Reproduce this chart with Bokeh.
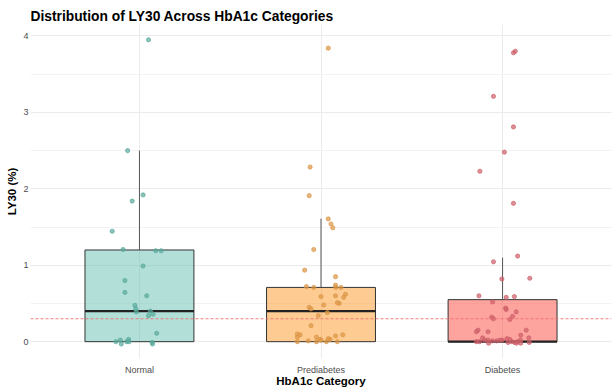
from bokeh.plotting import figure
from bokeh.models import FactorRange, Range1d, Span, SingleIntervalTicker, ColumnDataSource
from bokeh.embed import file_html
from bokeh.resources import INLINE

# HbA1c groups and their colours
categories = ["Normal", "Prediabetes", "Diabetes"]
box_fill = ["#65BFB1", "#FD9A26", "#FB4A3E"]
point_color = ["#58AA9B", "#DC9646", "#CD5F69"]

# Box-plot summary statistics of LY30 (%) per group
q1 = [0.0, 0.0, 0.0]
median = [0.40, 0.40, 0.0]
q3 = [1.20, 0.71, 0.55]
upper_whisker = [2.50, 1.61, 1.10]

# Reference threshold for LY30 (%)
ly30_threshold = 0.3

# Individual observations (LY30 %) with their horizontal jitter offsets
normal_ly30 = [3.95, 2.50, 1.92, 1.84, 1.445, 1.206, 1.19, 1.19, 0.99, 0.80, 0.645, 0.60,
               0.475, 0.43, 0.39, 0.40, 0.34, 0.36, 0.11, 0.0, 0.02, -0.03, 0.0, 0.03,
               0.0, -0.01, -0.03]
normal_jitter = [0.05, -0.065, 0.02, -0.04, -0.15, -0.09, 0.09, 0.12, 0.02, -0.08, -0.08, 0.04,
                 -0.025, -0.02, -0.017, 0.06, 0.05, 0.075, 0.095, -0.13, -0.105, -0.10, -0.07, -0.06,
                 -0.057, 0.07, 0.072]

prediabetes_ly30 = [3.84, 2.285, 1.91, 1.606, 1.54, 1.49, 1.206, 0.936, 0.85, 0.72, 0.71, 0.74,
                    0.71, 0.71, 0.59, 0.60, 0.62, 0.58, 0.51, 0.50, 0.48, 0.45, 0.43, 0.38,
                    0.34, 0.21, 0.10, 0.09, 0.06, 0.0, 0.01, 0.06, 0.0, 0.03, 0.02, 0.0,
                    0.04, 0.03, 0.075, 0.0, 0.09]
prediabetes_jitter = [0.04, -0.06, -0.065, 0.04, 0.055, 0.065, -0.04, -0.09, 0.08, -0.08, -0.04, 0.08,
                      0.082, 0.11, 0.0, 0.08, 0.135, 0.125, 0.09, 0.10, 0.015, -0.065, -0.055, 0.035,
                      -0.015, -0.055, -0.13, -0.115, -0.13, -0.13, -0.07, -0.025, -0.025, -0.005, 0.0, 0.03,
                      0.04, 0.05, 0.08, 0.09, 0.12]

diabetes_ly30 = [3.78, 3.80, 3.21, 2.81, 2.48, 2.23, 1.81, 1.12, 1.045, 0.82, 0.83, 0.60,
                 0.58, 0.59, 0.52, 0.44, 0.42, 0.39, 0.32, 0.30, 0.29, 0.33, 0.15, 0.13,
                 0.13, 0.15, 0.085, 0.05, 0.05, 0.0, 0.0, 0.02, -0.02, 0.01, 0.01, 0.02,
                 0.02, 0.04, -0.01, 0.03, 0.0, -0.01, -0.02, 0.0, 0.02, -0.02, -0.01, 0.02]
diabetes_jitter = [0.06, 0.07, -0.05, 0.06, 0.01, -0.125, 0.06, 0.083, -0.05, -0.004, 0.15, -0.13,
                   0.02, 0.065, -0.055, 0.017, 0.02, 0.075, -0.06, -0.05, 0.04, 0.055, -0.135, -0.144,
                   -0.08, 0.13, 0.10, 0.145, -0.11, -0.144, -0.127, -0.081, -0.077, -0.057, -0.033, -0.015,
                   -0.002, 0.024, 0.03, 0.04, 0.05, 0.066, 0.077, 0.083, 0.099, 0.10, 0.147, -0.099]

group_values = [normal_ly30, prediabetes_ly30, diabetes_ly30]
group_jitter = [normal_jitter, prediabetes_jitter, diabetes_jitter]

FONT = "Liberation Sans"
BOX_WIDTH = 0.6

p = figure(
    width=616, height=392,
    x_range=FactorRange(*categories, range_padding=0.1, range_padding_units="absolute"),
    y_range=Range1d(-0.22, 4.15),
    output_backend="svg", toolbar_location=None,
    min_border_left=30, min_border_right=5, min_border_top=24, min_border_bottom=34,
    title="Distribution of LY30 Across HbA1c Categories",
)
p.outline_line_color = None
p.background_fill_color = "white"
p.border_fill_color = "white"

p.title.text_font = FONT
p.title.text_font_size = "13.8px"
p.title.text_font_style = "bold"
p.title.text_color = "black"
p.title.standoff = 2

# boxes
box_src = ColumnDataSource(dict(cat=categories, q1=q1, q3=q3, fill=box_fill))
p.vbar(x="cat", width=BOX_WIDTH, bottom="q1", top="q3", source=box_src,
       fill_color="fill", fill_alpha=0.5, line_color="#333333", line_width=1)

# whiskers
whisk_src = ColumnDataSource(dict(
    x=[(c, 0.0) for c in categories], lo=q3, hi=upper_whisker))
p.segment(x0="x", x1="x", y0="lo", y1="hi", source=whisk_src,
          line_color="#555555", line_width=1)

# medians
med_src = ColumnDataSource(dict(
    x0=[(c, -BOX_WIDTH / 2) for c in categories],
    x1=[(c, BOX_WIDTH / 2) for c in categories],
    y=median))
p.segment(x0="x0", x1="x1", y0="y", y1="y", source=med_src,
          line_color="#222222", line_width=2.2)

# jittered observations
for cat, vals, jit, col in zip(categories, group_values, group_jitter, point_color):
    src = ColumnDataSource(dict(x=[(cat, j) for j in jit], y=vals))
    p.scatter(x="x", y="y", source=src, size=4.2, marker="circle",
              fill_color=col, line_color=col, fill_alpha=0.7, line_alpha=0.7)

# threshold line
p.add_layout(Span(location=ly30_threshold, dimension="width",
                  line_color="#F07070", line_alpha=0.9, line_dash="3 2", line_width=1))

# axes
p.yaxis.ticker = SingleIntervalTicker(interval=1, num_minor_ticks=2)
for ax in (p.xaxis[0], p.yaxis[0]):
    ax.axis_line_color = None
    ax.major_tick_line_color = None
    ax.minor_tick_line_color = None
    ax.major_tick_out = 0
    ax.minor_tick_out = 0
    ax.major_label_text_font = FONT
    ax.major_label_text_font_size = "9px"
    ax.major_label_text_color = "#4D4D4D"
    ax.axis_label_text_font = FONT
    ax.axis_label_text_font_size = "11.5px"
    ax.axis_label_text_font_style = "bold"
    ax.axis_label_text_color = "black"

p.xaxis.axis_label = "HbA1c Category"
p.xaxis.major_label_standoff = 6
p.xaxis.axis_label_standoff = -3
p.yaxis.axis_label = "LY30 (%)"
p.yaxis.major_label_standoff = 2
p.yaxis.axis_label_standoff = 2

# grid
p.xgrid.grid_line_color = "#EBEBEB"
p.ygrid.grid_line_color = "#EBEBEB"
p.ygrid.minor_grid_line_color = "#F3F3F3"

open("out.html", "w").write(file_html(p, INLINE))
